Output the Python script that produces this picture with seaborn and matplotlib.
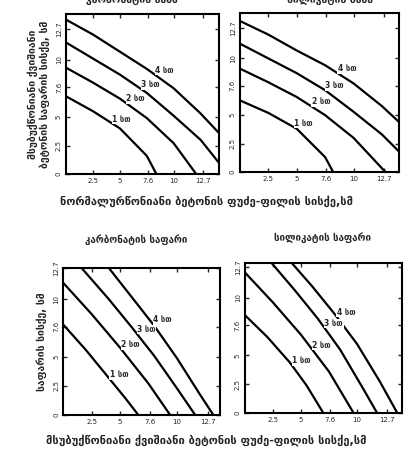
import numpy as np
import pandas as pd
import matplotlib
matplotlib.use("Agg")
import matplotlib.pyplot as plt
import seaborn as sns

# ratings (curve labels)
ratings = ["1 სთ", "2 სთ", "3 სთ", "4 სთ"]

# top-left panel: base slab thickness (x) vs overlay thickness (y), cm
tl_x = {
    "1 სთ": [0, 2.5, 5, 7.5, 8.4],
    "2 სთ": [0, 2.5, 5, 7.5, 10, 12.1],
    "3 სთ": [0, 2.5, 5, 7.5, 10, 12.5, 14.2],
    "4 სთ": [0, 2.5, 5, 7.5, 10, 12.5, 14.2],
}
tl_y = {
    "1 სთ": [6.8, 5.5, 4.0, 1.6, 0],
    "2 სთ": [9.3, 8.0, 6.6, 4.9, 2.7, 0],
    "3 სთ": [11.5, 10.1, 8.7, 7.1, 5.1, 3.0, 1.0],
    "4 სთ": [13.5, 12.2, 10.7, 9.2, 7.5, 5.3, 3.6],
}

# top-right panel
tr_x = {
    "1 სთ": [0, 2.5, 5, 7.5, 8.2],
    "2 სთ": [0, 2.5, 5, 7.5, 10, 12.8],
    "3 სთ": [0, 2.5, 5, 7.5, 10, 12.5, 14],
    "4 სთ": [0, 2.5, 5, 7.5, 10, 12.5, 14],
}
tr_y = {
    "1 სთ": [6.3, 5.2, 3.8, 1.3, 0],
    "2 სთ": [9.1, 7.9, 6.6, 5.0, 3.0, 0],
    "3 სთ": [11.3, 10.0, 8.7, 7.2, 5.3, 3.3, 1.8],
    "4 სთ": [13.3, 12.1, 10.7, 9.4, 7.8, 5.8, 4.4],
}

# bottom-left panel (carbonate overlay)
bl_x = {
    "1 სთ": [0, 2, 4, 5.5, 6.6],
    "2 სთ": [0, 2.5, 5, 7.5, 9.4],
    "3 სთ": [1.6, 4, 6, 8, 10, 11.6],
    "4 სთ": [4.0, 6, 8, 10, 12, 13.2],
}
bl_y = {
    "1 სთ": [7.8, 5.6, 3.2, 1.4, 0],
    "2 სთ": [11.4, 8.7, 5.8, 2.7, 0],
    "3 სთ": [12.7, 10.0, 7.6, 5.1, 2.3, 0],
    "4 სთ": [12.7, 10.2, 7.7, 4.9, 1.8, 0],
}

# bottom-right panel (siliceous overlay)
br_x = {
    "1 სთ": [0, 2, 4, 5.5, 7.0],
    "2 სთ": [0, 2.5, 5, 7.5, 9.7],
    "3 სთ": [2.4, 4.5, 6.5, 8.5, 10.5, 11.8],
    "4 სთ": [4.2, 6, 8, 10, 12, 13.6],
}
br_y = {
    "1 სთ": [8.5, 6.6, 4.4, 2.4, 0],
    "2 სთ": [12.2, 9.6, 6.8, 3.6, 0],
    "3 სთ": [13.0, 10.6, 8.2, 5.5, 2.2, 0],
    "4 სთ": [13.0, 11.0, 8.6, 6.0, 2.8, 0],
}

x_ticks = [2.5, 5, 7.6, 10, 12.7]
x_ticklabels = ["2.5", "5", "7.6", "10", "12.7"]
y_ticks = [0, 2.5, 5, 7.6, 10, 12.7]
y_ticklabels = ["0", "2.5", "5", "7.6", "10", "12.7"]

top_titles = ["კარბონატის ბაზა", "სილიკატის ბაზა"]
bottom_titles = ["კარბონატის საფარი", "სილიკატის საფარი"]
top_xlabel = "ნორმალურწონიანი ბეტონის ფუძე-ფილის სისქე,სმ"
bottom_xlabel = "მსუბუქწონიანი ქვიშიანი ბეტონის ფუძე-ფილის სისქე,სმ"
top_ylabel = "მსუბუქწონიანი ქვიშიანი\nბეტონის საფარის სისქე, სმ"
bottom_ylabel = "საფარის სისქე, სმ"


def to_df(xs, ys):
    rows = []
    for r in ratings:
        for x, y in zip(xs[r], ys[r]):
            rows.append({"x": x, "y": y, "rating": r})
    return pd.DataFrame(rows)


sns.set_style("ticks")
plt.rcParams["font.family"] = ["DejaVu Sans"]

fig = plt.figure(figsize=(4.13, 4.5), dpi=100)

panels = [
    # (rect, xs, ys, xlim, ylim, label x positions)
    ([0.160, 0.613, 0.370, 0.356], tl_x, tl_y, 14.2, 14.0, [4.3, 5.6, 7.0, 8.3]),
    ([0.581, 0.618, 0.385, 0.353], tr_x, tr_y, 14.0, 14.0, [4.8, 6.3, 7.5, 8.6]),
    ([0.153, 0.078, 0.380, 0.327], bl_x, bl_y, 13.8, 12.7, [4.1, 5.1, 6.5, 7.9]),
    ([0.593, 0.082, 0.380, 0.333], br_x, br_y, 14.0, 13.0, [4.2, 6.0, 7.1, 8.2]),
]

axes = []
for rect, xs, ys, xmax, ymax, lab_x in panels:
    ax = fig.add_axes(rect)
    df = to_df(xs, ys)
    sns.lineplot(data=df, x="x", y="y", hue="rating", sort=False,
                 palette=["black"] * 4, linewidth=1.6, legend=False, ax=ax)
    ax.set_xlim(0, xmax)
    ax.set_ylim(0, ymax)
    ax.set_xticks(x_ticks)
    ax.set_xticklabels(x_ticklabels, fontsize=5)
    ax.set_yticks(y_ticks)
    ax.set_yticklabels(y_ticklabels, fontsize=5, rotation=90, va="center")
    ax.tick_params(direction="in", length=3, width=1, top=True, right=True, pad=3)
    for s in ax.spines.values():
        s.set_linewidth(1.5)
        s.set_color("black")
    ax.set_xlabel("")
    ax.set_ylabel("")
    # curve labels sitting on the curves
    for r, lx in zip(ratings, lab_x):
        ly = np.interp(lx, xs[r], ys[r])
        ax.text(lx, ly, r, fontsize=5.5, fontweight="bold", ha="left", va="bottom",
                bbox=dict(facecolor="white", edgecolor="none", pad=0.3))
    axes.append(ax)

axes[0].set_ylabel(top_ylabel, fontsize=7.5, fontweight="bold", labelpad=4)
axes[2].set_ylabel(bottom_ylabel, fontsize=7.5, fontweight="bold", labelpad=4)

fig.text(0.32, 1.0, top_titles[0], fontsize=7.5, fontweight="bold", ha="center", va="center")
fig.text(0.80, 1.0, top_titles[1], fontsize=7.5, fontweight="bold", ha="center", va="center")
fig.text(0.33, 0.468, bottom_titles[0], fontsize=7, fontweight="bold", ha="center", va="center")
fig.text(0.78, 0.473, bottom_titles[1], fontsize=7, fontweight="bold", ha="center", va="center")
fig.text(0.50, 0.553, top_xlabel, fontsize=8, fontweight="bold", ha="center", va="center")
fig.text(0.50, 0.022, bottom_xlabel, fontsize=8, fontweight="bold", ha="center", va="center")

fig.savefig("out.png", dpi=100, facecolor="white")
